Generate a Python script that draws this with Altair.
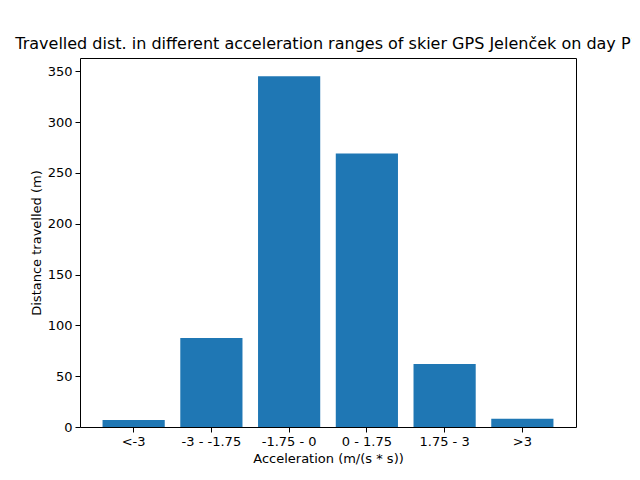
import altair as alt
import pandas as pd

ranges = ["<-3", "-3 - -1.75", "-1.75 - 0", "0 - 1.75", "1.75 - 3", ">3"]
distance = [7, 87.5, 345, 269, 62, 8]

df = pd.DataFrame({"range": ranges, "distance": distance})

chart = alt.Chart(df).mark_bar(color="#1f77b4").encode(
    x=alt.X("range:N", sort=ranges, title="Acceleration (m/(s * s))",
            scale=alt.Scale(paddingInner=0.2, paddingOuter=0.29),
            axis=alt.Axis(labelAngle=0)),
    y=alt.Y("distance:Q", title="Distance travelled (m)",
            scale=alt.Scale(domain=[0, 363], nice=False),
            axis=alt.Axis(values=[0, 50, 100, 150, 200, 250, 300, 350])),
).properties(
    width=496, height=369,
    title="Travelled dist. in different acceleration ranges of skier GPS Jelenček on day P1",
    autosize=alt.AutoSizeParams(type="none"),
    padding={"left": 72, "top": 50, "right": 56, "bottom": 45},
).configure_view(
    stroke="black", strokeWidth=1
).configure_axis(
    grid=False, domain=False, tickColor="black", tickSize=5,
    labelColor="black", labelFont="DejaVu Sans", labelFontSize=13,
    titleFont="DejaVu Sans", titleFontSize=13, titleFontWeight="normal",
    titleColor="black", labelPadding=3,
).configure_title(
    font="DejaVu Sans", fontSize=16, fontWeight="normal", anchor="middle", offset=6
)

chart.save("out.html", embed_options={"renderer": "svg", "actions": False})
